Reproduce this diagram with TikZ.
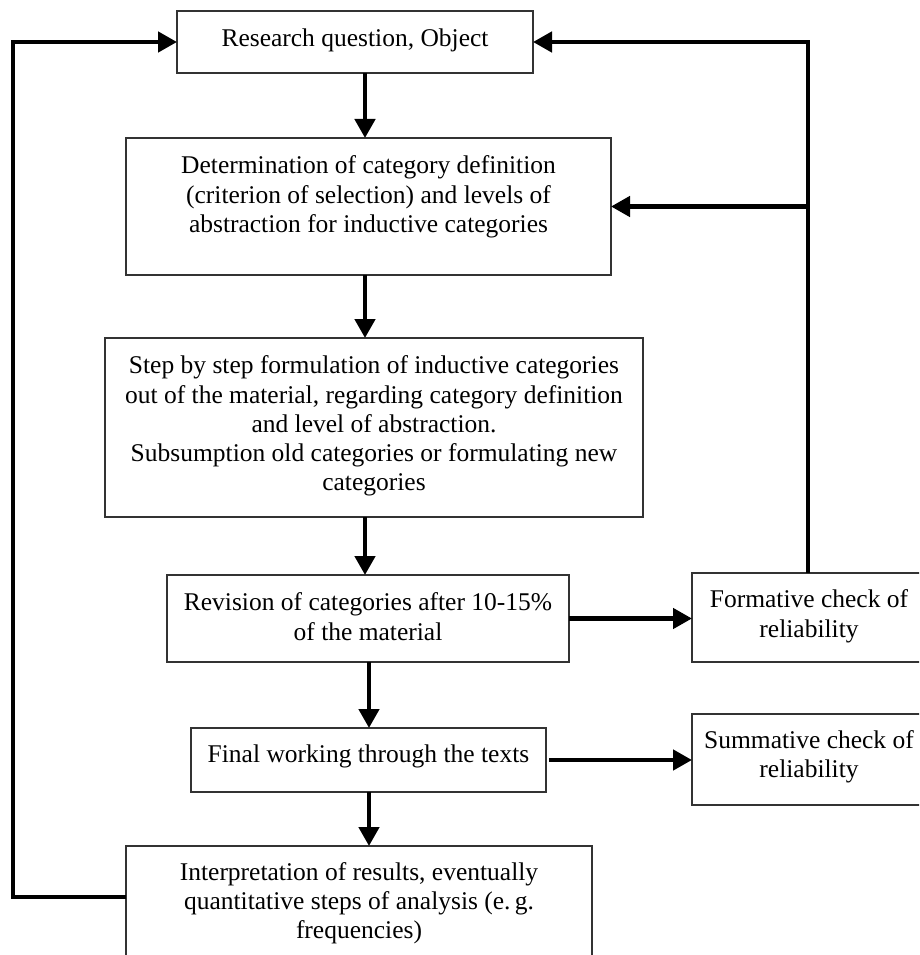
\documentclass[tikz,border=0pt]{standalone}
\usepackage{fontspec}
\setmainfont{Liberation Serif}
\usetikzlibrary{arrows.meta}
\begin{document}
\begin{tikzpicture}[x=1pt,y=-1pt,
  box/.style={draw=black!80, line width=1.8pt, outer sep=0pt, inner sep=0pt},
  txt/.style={anchor=north, inner sep=0pt, align=center, font=\fontsize{25.5}{29.3}\selectfont},
  flow/.style={line width=4.5pt, -{Triangle[length=19pt,width=20pt]}}]
\clip (0,0) rectangle (919,955);
% boxes
\node[box, minimum width=356pt, minimum height=62pt] (b1) at (355,42) {};
\node[box, minimum width=485pt, minimum height=137pt] (b2) at (368.5,206.5) {};
\node[box, minimum width=538pt, minimum height=179pt] (b3) at (374,427.5) {};
\node[box, minimum width=402pt, minimum height=87pt] (b4) at (368,618.5) {};
\node[box, minimum width=234pt, minimum height=89pt] (b5) at (809,617.5) {};
\node[box, minimum width=355pt, minimum height=64pt] (b6) at (368.5,760) {};
\node[box, minimum width=234pt, minimum height=91pt] (b7) at (809,759.5) {};
\node[box, minimum width=466pt, minimum height=124pt] (b8) at (359,908) {};
% texts
\node[txt] (t1) at ([yshift=-14.5pt]b1.north) {\strut Research question, Object};
\node[txt] (t2) at ([yshift=-15pt]b2.north) {\strut Determination of category definition\\(criterion of selection) and levels of\\abstraction for inductive categories};
\node[txt] (t3) at ([yshift=-15pt]b3.north) {\strut Step by step formulation of inductive categories\\out of the material, regarding category definition\\and level of abstraction.\\Subsumption old categories or formulating new\\categories};
\node[txt] (t4) at ([yshift=-15pt]b4.north) {\strut Revision of categories after 10-15\%\\of the material};
\node[txt] (t5) at ([yshift=-14pt]b5.north) {\strut Formative check of\\reliability};
\node[txt] (t6) at ([yshift=-13.5pt]b6.north) {\strut Final working through the texts};
\node[txt] (t7) at ([yshift=-13.5pt]b7.north) {\strut Summative check of\\reliability};
\node[txt] (t8) at ([yshift=-13.5pt]b8.north) {\strut Interpretation of results, eventually\\quantitative steps of analysis (e.\,g.\\frequencies)};
% helper coordinates
\coordinate (vx) at (365,0);
\coordinate (vy) at (369,0);
\coordinate (lx) at (13,897);
\coordinate (rx) at (808,0);
% vertical flow
\draw[flow] (b1.south -| vx) -- (b2.north -| vx);
\draw[flow] (b2.south -| vx) -- (b3.north -| vx);
\draw[flow] (b3.south -| vx) -- (b4.north -| vx);
\draw[flow] (b4.south -| vy) -- (b6.north -| vy);
\draw[flow] (b6.south -| vy) -- (b8.north -| vy);
% side checks
\draw[flow] (b4.east) -- (b5.west |- b4.east);
\draw[flow] ([xshift=3pt]b6.east) -- (b7.west |- b6.east);
% feedback loops
\draw[flow, line join=miter] (b8.west |- lx) -- (lx) -- (lx |- b1.west) -- (b1.west);
\draw[flow, line join=miter] (b5.north -| rx) -- (rx |- b1.east) -- (b1.east);
\draw[flow] (rx |- b2.east) -- (b2.east);
\end{tikzpicture}
\end{document}
